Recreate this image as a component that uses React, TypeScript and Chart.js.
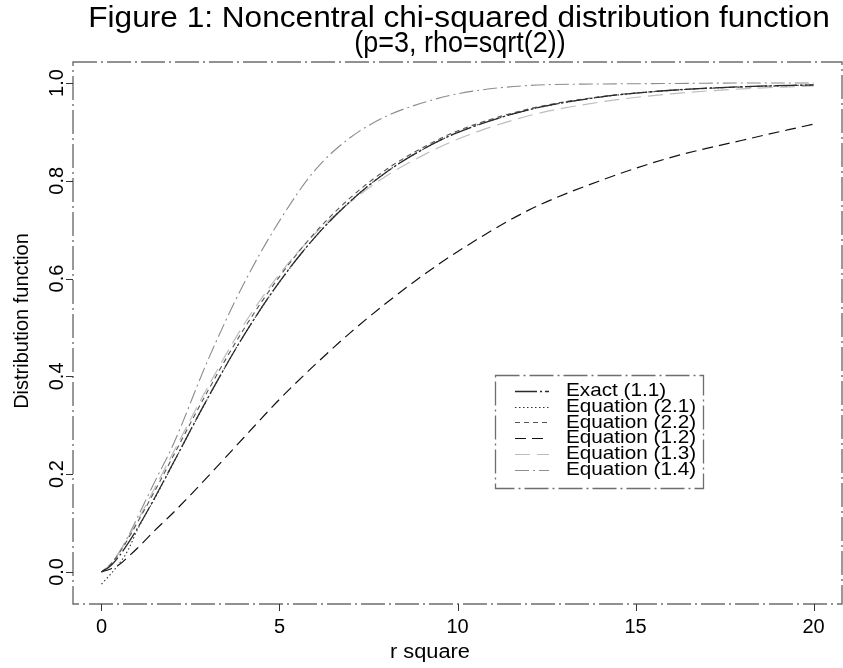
import React, { useEffect, useRef } from "react";
import { Chart, registerables } from "chart.js";

Chart.register(...registerables);

// ---- data ----
const rSquare = [0, 0.25, 0.5, 0.75, 1, 1.5, 2, 3, 4, 5, 6, 7, 8, 9, 10, 12, 14, 16, 18, 20];
const exact11 = [0, 0.0119, 0.0328, 0.0587, 0.0879, 0.1523, 0.2207, 0.3577, 0.4839, 0.5934, 0.6848, 0.7588, 0.8176, 0.8634, 0.8986, 0.9453, 0.9712, 0.9852, 0.9925, 0.9963];
const eq21 = [-0.025, -0.005, 0.017, 0.045, 0.085, 0.151, 0.22, 0.357, 0.484, 0.593, 0.685, 0.759, 0.818, 0.863, 0.899, 0.945, 0.971, 0.985, 0.992, 0.996];
const eq22 = [0, 0.015, 0.039, 0.068, 0.1, 0.166, 0.235, 0.372, 0.497, 0.604, 0.694, 0.766, 0.823, 0.867, 0.902, 0.947, 0.972, 0.985, 0.992, 0.996];
const eq12 = [0, 0.006, 0.015, 0.031, 0.048, 0.085, 0.12, 0.196, 0.275, 0.353, 0.424, 0.49, 0.55, 0.605, 0.655, 0.74, 0.8, 0.848, 0.883, 0.916];
const eq13 = [0, 0.016, 0.041, 0.071, 0.103, 0.172, 0.242, 0.38, 0.506, 0.609, 0.692, 0.757, 0.81, 0.851, 0.885, 0.933, 0.961, 0.978, 0.988, 0.994];
const eq14 = [0, 0.014, 0.04, 0.073, 0.11, 0.185, 0.258, 0.435, 0.59, 0.718, 0.822, 0.889, 0.932, 0.959, 0.978, 0.995, 0.998, 0.999, 1.0, 1.0];

const xTicks = [0, 5, 10, 15, 20];
const yTicks = [0, 0.2, 0.4, 0.6, 0.8, 1.0];
const yTickLabels = ["0.0", "0.2", "0.4", "0.6", "0.8", "1.0"];

const titleLines = ["Figure 1: Noncentral chi-squared distribution function", "(p=3, rho=sqrt(2))"];
const xTitle = "r square";
const yTitle = "Distribution function";

const seriesLabels = ["Exact (1.1)", "Equation (2.1)", "Equation (2.2)", "Equation (1.2)", "Equation (1.3)", "Equation (1.4)"];
const seriesValues = [exact11, eq21, eq22, eq12, eq13, eq14];
const seriesColors = ["#2a2a2a", "#333333", "#555555", "#111111", "#bdbdbd", "#8c8c8c"];
const seriesDash = [[22, 3, 2, 3], [1.5, 2.5], [5, 4], [11, 6], [15, 7], [14, 4, 2, 4]];
const seriesWidth = [1.3, 1.1, 1.1, 1.2, 1.2, 1.1];
const seriesOrder = [0, 1, 2, 3, 4, 5];

const FONT = '"Liberation Sans", Arial, Helvetica, sans-serif';

function drawText(ctx: CanvasRenderingContext2D, s: string, x: number, y: number, size: number, sx: number, align: CanvasTextAlign = "center", rotate = false) {
  ctx.save();
  ctx.translate(x, y);
  ctx.scale(sx, 1);
  if (rotate) ctx.rotate(-Math.PI / 2);
  ctx.font = `${size}px ${FONT}`;
  ctx.textAlign = align;
  ctx.textBaseline = "middle";
  ctx.fillStyle = "#000";
  ctx.fillText(s, 0, 0);
  ctx.restore();
}

const decorPlugin = {
  id: "decor",
  afterDraw(chart: any) {
    const ctx: CanvasRenderingContext2D = chart.ctx;
    const a = chart.chartArea;
    const xs = chart.scales.x;
    const ys = chart.scales.y;

    // box (dash-dot)
    ctx.save();
    ctx.strokeStyle = "#6e6e6e";
    ctx.lineWidth = 1.4;
    ctx.setLineDash([24, 4, 2, 4]);
    ctx.strokeRect(a.left, a.top, a.right - a.left, a.bottom - a.top);
    ctx.restore();

    // tick marks
    ctx.save();
    ctx.strokeStyle = "#333";
    ctx.lineWidth = 1;
    ctx.beginPath();
    xs.ticks.forEach((t: any) => {
      const px = Math.round(xs.getPixelForValue(t.value)) + 0.5;
      ctx.moveTo(px, a.bottom);
      ctx.lineTo(px, a.bottom + 7);
    });
    ys.ticks.forEach((t: any) => {
      const py = Math.round(ys.getPixelForValue(t.value)) + 0.5;
      ctx.moveTo(a.left, py);
      ctx.lineTo(a.left - 7, py);
    });
    ctx.stroke();
    ctx.restore();

    // tick labels
    xs.ticks.forEach((t: any) => {
      drawText(ctx, String(t.value), xs.getPixelForValue(t.value), 627, 20, 1.0);
    });
    ys.ticks.forEach((t: any, i: number) => {
      drawText(ctx, yTickLabels[i], 57, ys.getPixelForValue(t.value), 20, 1.0, "center", true);
    });

    // titles
    drawText(ctx, titleLines[0], 459, 18.5, 29, 1.09);
    drawText(ctx, titleLines[1], 460, 43.5, 29, 0.93);
    drawText(ctx, xTitle, 430, 652, 20, 1.09);
    drawText(ctx, yTitle, 22, 321, 20, 1.05, "center", true);

    // legend
    const lx0 = 495, ly0 = 375, lx1 = 703, ly1 = 488;
    ctx.save();
    ctx.fillStyle = "#fff";
    ctx.fillRect(lx0, ly0, lx1 - lx0, ly1 - ly0);
    ctx.strokeStyle = "#6e6e6e";
    ctx.lineWidth = 1.3;
    ctx.setLineDash([24, 4, 2, 4]);
    ctx.strokeRect(lx0 + 0.5, ly0 + 0.5, lx1 - lx0, ly1 - ly0);
    ctx.restore();
    chart.data.datasets.forEach((ds: any, i: number) => {
      const cy = 391 + i * 15.7;
      ctx.save();
      ctx.strokeStyle = ds.borderColor;
      ctx.lineWidth = ds.borderWidth;
      ctx.setLineDash(ds.borderDash || []);
      ctx.beginPath();
      ctx.moveTo(515, Math.round(cy) + 0.5);
      ctx.lineTo(549, Math.round(cy) + 0.5);
      ctx.stroke();
      ctx.restore();
      drawText(ctx, ds.label, 566, cy, 19, 1.09, "left");
    });
  },
};

export default function App() {
  const ref = useRef<HTMLCanvasElement | null>(null);
  useEffect(() => {
    if (!ref.current) return;
    const datasets = seriesLabels.map((label, i) => ({
      label,
      data: rSquare.map((x, j) => ({ x, y: seriesValues[i][j] })),
      borderColor: seriesColors[i],
      backgroundColor: seriesColors[i],
      borderWidth: seriesWidth[i],
      borderDash: seriesDash[i],
      pointRadius: 0,
      fill: false,
      cubicInterpolationMode: "monotone" as const,
      order: seriesOrder[i],
    }));
    const chart = new Chart(ref.current, {
      type: "line",
      data: { datasets },
      options: {
        animation: false,
        responsive: false,
        devicePixelRatio: 1,
        parsing: false as any,
        layout: { padding: { top: 62, right: 1, left: 0, bottom: 0 } },
        plugins: { legend: { display: false }, title: { display: false }, tooltip: { enabled: false } },
        scales: {
          x: {
            type: "linear",
            min: -0.8,
            max: 20.8,
            afterBuildTicks: (s: any) => { s.ticks = xTicks.map((v) => ({ value: v })); },
            afterFit: (s: any) => { s.height = 64; },
            ticks: { display: false },
            grid: { display: false },
            border: { display: false },
          },
          y: {
            type: "linear",
            min: -0.0656,
            max: 1.043,
            afterBuildTicks: (s: any) => { s.ticks = yTicks.map((v) => ({ value: v })); },
            afterFit: (s: any) => { s.width = 73; },
            ticks: { display: false },
            grid: { display: false },
            border: { display: false },
          },
        },
      },
      plugins: [decorPlugin],
    });
    return () => chart.destroy();
  }, []);
  return (
    <div style={{ position: "absolute", left: 0, top: 0, width: 843, height: 668, background: "#fff" }}>
      <canvas ref={ref} width={843} height={668} style={{ width: 843, height: 668, display: "block" }} />
    </div>
  );
}
